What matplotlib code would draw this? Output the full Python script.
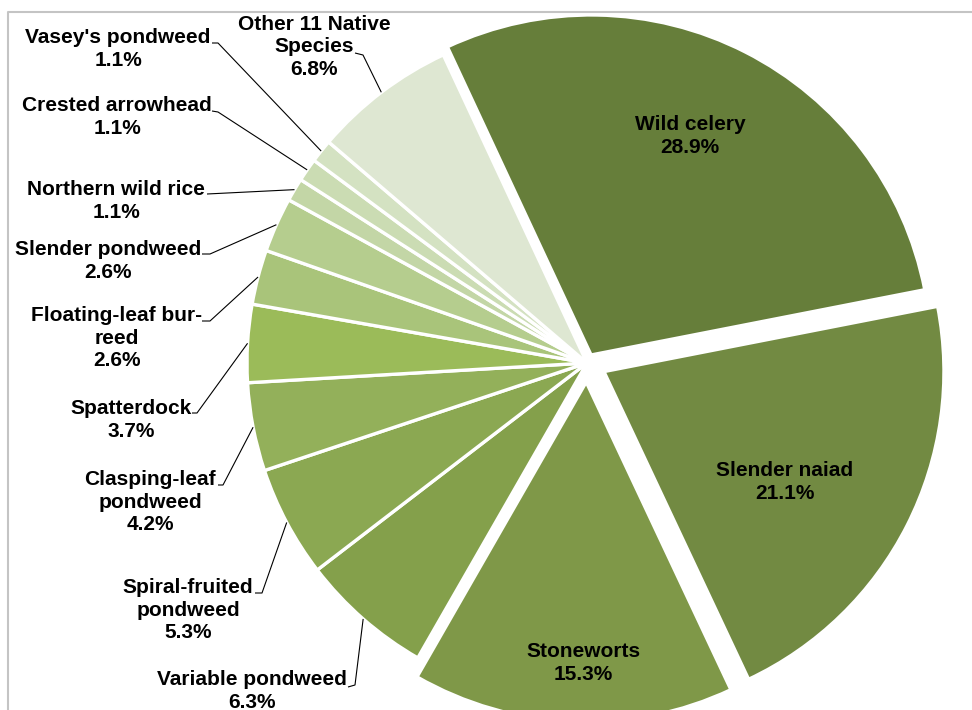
import numpy as np
import matplotlib.pyplot as plt
from matplotlib.lines import Line2D

plt.rcParams["font.family"] = ["Liberation Sans", "DejaVu Sans"]

# data
species = ["Wild celery", "Slender naiad", "Stoneworts", "Variable pondweed",
           "Spiral-fruited\npondweed", "Clasping-leaf\npondweed", "Spatterdock",
           "Floating-leaf bur-\nreed", "Slender pondweed", "Northern wild rice",
           "Crested arrowhead", "Vasey's pondweed", "Other 11 Native\nSpecies"]
percent = [28.9, 21.1, 15.3, 6.3, 5.3, 4.2, 3.7, 2.6, 2.6, 1.1, 1.1, 1.1, 6.8]

colors = ["#667e3a", "#728a42", "#7f9848", "#84a04b", "#8ba852", "#93b05a",
          "#9bbb59", "#a9c47a", "#b5cd8e", "#c3d6a6", "#cbdcb3", "#d4e2c2",
          "#dee7d2"]
# offsets in pixels (pie is drawn in pixel units)
explode = [9, 19, 19, 0, 0, 0, 0, 0, 0, 0, 0, 0, 0]

W, H = 972, 710
fig = plt.figure(figsize=(W / 100, H / 100), dpi=100)
ax = fig.add_axes([0, 0, 1, 1])

# pie in pixel units (y up)
cx, cy, r = 587, H - 363, 340
wedges, _ = ax.pie(percent, colors=colors, explode=explode, startangle=115,
                   counterclock=False, center=(cx, cy), radius=r,
                   wedgeprops=dict(edgecolor="white", linewidth=2.4))
ax.set_xlim(0, W)
ax.set_ylim(0, H)
ax.axis("off")

fs = 15
tkw = dict(fontsize=fs, fontweight="bold", ha="center", va="center",
           linespacing=1.25, color="black")

# labels inside the three big slices (x, y in image px)
inside_pos = [(690, 136), (785, 482), (583, 663)]
for i, (x, y) in enumerate(inside_pos):
    ax.text(x, H - y, f"{species[i]}\n{percent[i]:.1f}%", **tkw)

# outside labels: text centre and start of leader line (image px)
outside_pos = {3: (252, 691), 4: (188, 610), 5: (150, 502), 6: (131, 420),
               7: (117, 338), 8: (108, 261), 9: (116, 201), 10: (117, 117),
               11: (118, 49), 12: (314, 47)}
leader_start = {3: [(348, 687), (355, 685)], 4: [(255, 593), (262, 593)],
                5: [(218, 485), (223, 485)], 6: [(192, 413), (197, 413)],
                7: [(202, 321), (210, 321)], 8: [(202, 254), (210, 254)],
                9: [(207, 194)], 10: [(212, 111), (218, 112)],
                11: [(212, 43), (218, 43)], 12: [(355, 53), (363, 55)]}

for i, (x, y) in outside_pos.items():
    ax.text(x, H - y, f"{species[i]}\n{percent[i]:.1f}%", **tkw)
    w = wedges[i]
    ang = np.deg2rad((w.theta1 + w.theta2) / 2)
    ex, ey = cx + r * np.cos(ang), cy + r * np.sin(ang)
    pts = leader_start[i]
    xs = [p[0] for p in pts] + [ex]
    ys = [H - p[1] for p in pts] + [ey]
    ax.plot(xs, ys, color="black", lw=0.8, solid_capstyle="butt")

# chart area border (cropped at right and bottom)
fig.add_artist(Line2D([8 / W, 8 / W, 1.0], [0.0, 1 - 12 / H, 1 - 12 / H],
                      transform=fig.transFigure, color="#c4c4c4", lw=1.5))

fig.savefig("out.png", dpi=100)
